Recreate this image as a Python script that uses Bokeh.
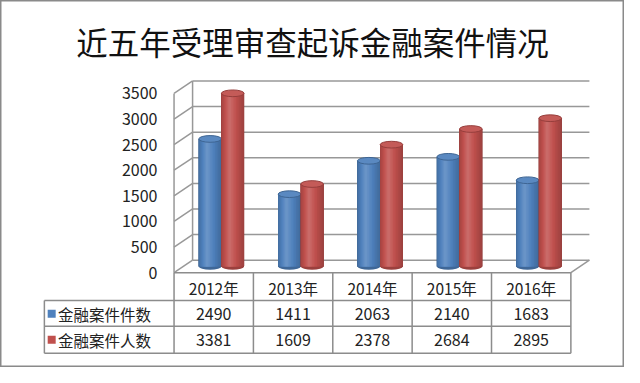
import numpy as np
from bokeh.plotting import figure
from bokeh.models import Range1d
from bokeh.embed import file_html
from bokeh.resources import INLINE
from bokeh.core.properties import value

# ---------------- data ----------------
title_text = "近五年受理审查起诉金融案件情况"
years = ["2012年", "2013年", "2014年", "2015年", "2016年"]
series_names = ["金融案件件数", "金融案件人数"]
cases = [2490, 1411, 2063, 2140, 1683]
people = [3381, 1609, 2378, 2684, 2895]
y_ticks = [0, 500, 1000, 1500, 2000, 2500, 3000, 3500]
series_colors = ["#4F81BD", "#C0504D"]

# ---------------- layout helpers (reference picture is 640x383) ----------------
W, H = 624, 367
REF_W, REF_H = 640, 383
FX0, FX1 = 178, 585      # front plane x extent in reference pixels
FY0, FYT = 284, 97       # pixel rows of 0 and top tick on the front plane
n = len(years)
cat_px = (FX1 - FX0) / n
val_px = (FY0 - FYT) / y_ticks[-1]


def X(px):
    return (px - FX0) / cat_px - 0.5


def Y(py):
    return (FY0 - py) / val_px


DX = 19 / cat_px          # depth offset (x)
DY = 13 / val_px          # depth offset (y)
FONT = value("Noto Sans CJK SC")

p = figure(width=W, height=H,
           x_range=Range1d(X(0), X(REF_W)), y_range=Range1d(Y(REF_H), Y(0)),
           x_axis_type=None, y_axis_type=None, toolbar_location=None,
           output_backend="svg", min_border=0,
           background_fill_color="white", border_fill_color="white")
p.outline_line_color = "#8a8a8a"
p.outline_line_width = 2

GRID = "#989898"
left_front = -0.5
left_back = -0.5 + DX
right_front = n - 0.5
right_back = n - 0.5 + DX
ticks = np.array(y_ticks, dtype=float)

# back wall gridlines
p.segment(x0=[left_back] * len(ticks), y0=ticks + DY,
          x1=[right_back] * len(ticks), y1=ticks + DY,
          line_color=GRID, line_width=1.5)
# left wall diagonals
p.segment(x0=[left_front] * len(ticks), y0=ticks,
          x1=[left_back] * len(ticks), y1=ticks + DY,
          line_color=GRID, line_width=1.5)
# left wall vertical edges
p.segment(x0=[left_front, left_back], y0=[0, DY],
          x1=[left_front, left_back], y1=[ticks[-1], ticks[-1] + DY],
          line_color=GRID, line_width=1.5)
# floor right diagonal
p.segment(x0=[right_front], y0=[0], x1=[right_back], y1=[DY],
          line_color=GRID, line_width=1.5)

# y tick labels
p.text(x=[X(161)] * len(ticks), y=ticks, text=[str(t) for t in y_ticks],
       text_align="right", text_baseline="middle", text_font=FONT,
       text_font_size="16px", text_color="#222222")

# ---------------- cylinders ----------------
def hex2rgb(h):
    h = h.lstrip("#")
    return np.array([int(h[i:i + 2], 16) for i in (0, 2, 4)], dtype=float)


def rgb2hex(c):
    c = np.clip(c, 0, 255).round().astype(int)
    return "#%02x%02x%02x" % tuple(c)


def shade(h, b):
    c = hex2rgb(h)
    if b <= 1:
        return rgb2hex(c * b)
    return rgb2hex(c + (255 - c) * (b - 1))


bw = 0.285
group_center = 0.097
eh = 7 / val_px
HL = 0.36          # highlight position across the cylinder (0..1)
NLEV = 14
for s, (vals, col) in enumerate(zip([cases, people], series_colors)):
    cx = np.arange(n) + group_center + (s - 0.5) * bw
    vals = np.array(vals, dtype=float)
    bottom = np.full(n, DY / 2)
    top = vals + DY / 2
    # bottom cap
    p.ellipse(x=cx, y=bottom, width=bw, height=eh, fill_color=shade(col, 0.8),
              line_color=None)
    # body: nested bands, darkest/widest first, brightest/narrowest last
    for k in range(NLEV):
        d = 1.0 - k / NLEV                       # half-width (in units of bw)
        lo = max(0.0, HL - d * 0.66)
        hi = min(1.0, HL + d)
        b = 0.7 + 0.45 * (k / (NLEV - 1)) ** 1.3
        xs = cx - bw / 2 + (lo + hi) / 2 * bw
        p.vbar(x=xs, bottom=bottom, top=top, width=(hi - lo) * bw,
               fill_color=shade(col, b), line_color=None)
    # top cap
    p.ellipse(x=cx, y=top, width=bw, height=eh, fill_color=shade(col, 1.06),
              line_color=shade(col, 0.78), line_width=1)

# ---------------- data table ----------------
TL = "#8c8c8c"
row_y = [Y(313), Y(340), Y(368)]
# horizontal lines
p.segment(x0=[left_front, X(45), X(45), X(45)], y0=[0] + row_y,
          x1=[right_front] * 4, y1=[0] + row_y, line_color=TL, line_width=1.5)
# verticals
vx = [left_front + k for k in range(n + 1)]
p.segment(x0=vx, y0=[0] * len(vx), x1=vx, y1=[row_y[-1]] * len(vx),
          line_color=TL, line_width=1.5)
p.segment(x0=[X(45)], y0=[row_y[0]], x1=[X(45)], y1=[row_y[-1]],
          line_color=TL, line_width=1.5)

# header
p.text(x=list(range(n)), y=[Y(300)] * n, text=years, text_align="center",
       text_baseline="middle", text_font=FONT, text_font_size="15.5px",
       text_color="#222222")
row_centers = [Y(327), Y(354)]
for r, vals in enumerate([cases, people]):
    p.text(x=list(range(n)), y=[row_centers[r]] * n, text=[str(v) for v in vals],
           text_align="center", text_baseline="middle", text_font=FONT,
           text_font_size="16px", text_color="#222222")
# legend keys & names
p.scatter(x=[X(52.5)] * 2, y=row_centers, marker="square", size=8,
          fill_color=series_colors, line_color=None)
p.text(x=[X(59)] * 2, y=row_centers, text=series_names, text_align="left",
       text_baseline="middle", text_font=FONT, text_font_size="15.5px",
       text_color="#222222")

# title
p.text(x=[X(320)], y=[Y(42)], text=[title_text], text_align="center",
       text_baseline="middle", text_font=FONT, text_font_size="31.5px",
       text_color="#111111")

open("out.html", "w").write(file_html(p, INLINE))
